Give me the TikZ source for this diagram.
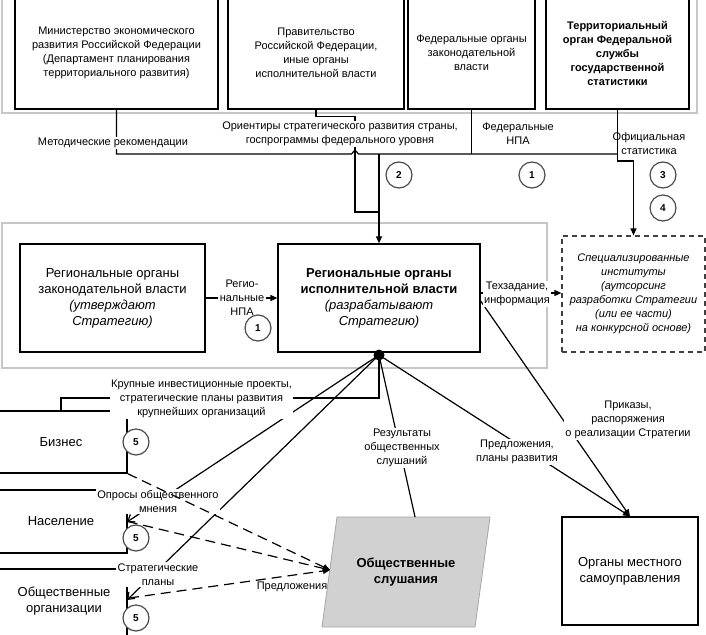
\documentclass[tikz,border=0pt]{standalone}
\usepackage{fontspec}
\setmainfont{Liberation Sans}
\usetikzlibrary{arrows.meta}
\begin{document}
\begin{tikzpicture}[x=1pt,y=-1pt,
  every node/.style={font=\fontsize{11}{14}\selectfont, align=center, inner sep=0pt},
  grp/.style={draw=black!22, line width=2pt},
  box/.style={draw, line width=1.3pt, fill=white},
  big/.style={font=\fontsize{13}{16}\selectfont},
  lbl/.style={fill=white, inner sep=1.5pt},
  num/.style={circle, draw=black!70, line width=1.2pt, fill=white, minimum size=26pt, font=\bfseries\fontsize{10}{12}\selectfont},
  con/.style={line width=1.2pt},
  tri/.style={-{Triangle[length=7pt,width=6pt]}},
  barb/.style={-{Straight Barb[length=6pt,width=9pt]}},
  dsh/.style={dash pattern=on 10pt off 6pt}
]
\useasboundingbox (0,0) rectangle (706,634);
\clip (0,0) rectangle (706,634);
\fill[white] (0,0) rectangle (706,634);

% groups
\draw[grp] (2,-5) rectangle (697,113);
\draw[grp] (2,223) rectangle (547,368);

% top boxes
\node[box, minimum width=203, minimum height=112] (min) at (116.5,53) {Министерство экономического\\развития Российской Федерации\\(Департамент планирования\\территориального развития)};
\node[box, minimum width=176, minimum height=112] (gov) at (316,53) {Правительство\\Российской Федерации,\\иные органы\\исполнительной власти};
\node[box, minimum width=127, minimum height=112] (fed) at (471.5,53) {Федеральные органы\\законодательной\\власти};
\node[box, minimum width=143, minimum height=112, font=\bfseries\fontsize{11}{14}\selectfont] (stat) at (617.5,53) {Территориальный\\орган Федеральной\\службы\\государственной\\статистики};

% middle boxes
\node[box, big, minimum width=185, minimum height=108] (leg) at (112.5,298) {Региональные органы\\законодательной власти\\\textit{(утверждают}\\\textit{Стратегию)}};
\node[box, big, minimum width=202, minimum height=108] (exec) at (379,298) {\textbf{Региональные органы}\\\textbf{исполнительной власти}\\\textit{(разрабатывают}\\\textit{Стратегию)}};
\node[box, draw=black!75, dash pattern=on 5pt off 4pt, line width=1.2pt, minimum width=143, minimum height=116, font=\itshape\fontsize{11}{14}\selectfont] (spec) at (633.5,294) {Специализированные\\институты\\(аутсорсинг\\разработки Стратегии\\(или ее части)\\на конкурсной основе)};

% bottom boxes
\node[box, big, minimum width=132, minimum height=62] (biz) at (61,442) {Бизнес};
\node[box, big, minimum width=132, minimum height=63] (pop) at (61,521.5) {Население};
\node[box, minimum width=132, minimum height=80] (org) at (61,609) {};
\node[big] (orgt) at (64,601) {Общественные\\организации};

\draw[fill=black!18, draw=black!35, line width=0.8pt] (337,517) -- (490,517) -- (475,627) -- (322,627) -- cycle;
\node[font=\bfseries\fontsize{13}{16}\selectfont] (hear) at (406,572) {Общественные\\слушания};
\coordinate (hearT) at (415,517);
\coordinate (hearL) at (330,570);

\node[box, big, minimum width=136, minimum height=108] (loc) at (630,571) {Органы местного\\самоуправления};

% top connectors
\coordinate (busL) at (116.5,154);
\coordinate (busM) at (379,154);
\coordinate (busR) at (617.5,154);
\draw[con] (min.south) -- (busL) -- (351.5,154) -- (355,150) -- (358.5,154) -- (busR);
\draw[con] (fed.south) -- (fed.south |- busL);
\draw[con, tri] (stat.south) -- (busR) -- ++(0,7) -| (spec.north);
\draw[con, tri] (busM) -- (exec.north);
\draw[con] (gov.south) -- ++(0,7) -| (355,212) -- (379,212);

\node[lbl] (lmet) at (113,143) {Методические рекомендации};
\node[lbl] (lor) at (340,134) {Ориентиры стратегического развития страны,\\госпрограммы федерального уровня};
\node[lbl] (lfnpa) at (518,134) {Федеральные\\НПА};
\node (lstat) at (649,143.5) {Официальная\\статистика};

\node[num] (n2) at (399,175) {2};
\node[num] (n1a) at (532,175) {1};
\node[num] (n3) at (663,175) {3};
\node[num] (n4) at (663,208) {4};

% middle connectors
\coordinate (tz) at (0,293);
\coordinate (tq) at (0,301);
\draw[con, tri] (leg.east) -- (exec.west);
\draw[con, tri] (exec.east |- tz) -- (spec.west |- tz);
\draw[con, tri] (exec.east |- tq) -- (loc.north);
\node[lbl] (lnpa) at (242,298) {Регио-\\нальные\\НПА};
\node[lbl] (ltz) at (517,294) {Техзадание,\\информация};
\node[lbl] (lprik) at (628,420) {Приказы,\\распоряжения\\о реализации Стратегии};
\node[num] (n1b) at (258,328) {1};

% from the dot
\node[circle, fill, minimum size=11pt] (dot) at (379,355) {};
\coordinate (popA) at (127,522);
\coordinate (orgA) at (127,600);
\coordinate (orgD) at (129,598);
\draw[con] (dot.center) -- ++(0,43) -| (biz.north);
\draw[con, barb] (dot.center) -- (popA);
\draw[con, barb] (dot.center) -- (orgA);
\draw[con] (dot.center) -- (hearT);
\draw[con, tri] (dot.center) -- (loc.north);

\node[lbl] (lkr) at (201.5,398.5) {Крупные инвестиционные проекты,\\стратегические планы развития\\крупнейших организаций};
\node[lbl] (lopr) at (158,501.5) {Опросы общественного\\мнения};
\node[lbl] (lstr) at (158,574.5) {Стратегические\\планы};
\node[lbl] (lres) at (402,448) {Результаты\\общественных\\слушаний};
\node[lbl] (lpred) at (517,452) {Предложения,\\планы развития};

% dashed to hearings
\draw[con, dsh, tri] (biz.south east) -- (hearL);
\draw[con, dsh, tri] (pop.east) -- (hearL);
\draw[con, dsh, tri] (orgD) -- (hearL);
\node (lpr) at (292,587) {Предложения};

\node[num] (n5a) at (136,442) {5};
\node[num] (n5b) at (136,538) {5};
\node[num] (n5c) at (136,618) {5};
\end{tikzpicture}
\end{document}
